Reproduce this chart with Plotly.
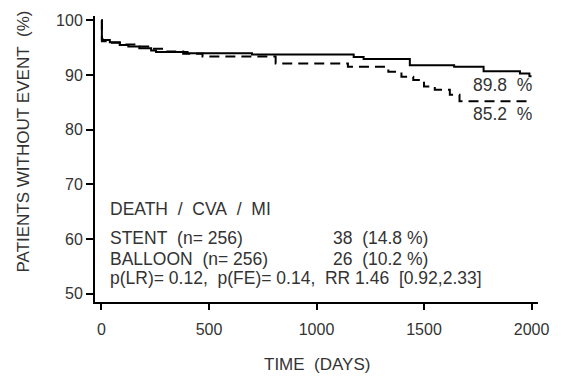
import plotly.graph_objects as go

# Kaplan-Meier style step data (days, % without event)
solid_days = [0, 2, 5, 39, 85, 125, 176, 231, 254, 400, 700, 1173, 1219, 1434, 1640, 1777, 1946, 1990, 2000]
solid_pct = [100, 96.6, 96.4, 96.0, 95.5, 95.2, 94.9, 94.5, 94.2, 94.0, 93.75, 93.3, 92.95, 91.8, 91.5, 90.7, 90.3, 89.8, 89.8]

dashed_days = [0, 2, 40, 100, 170, 230, 300, 380, 470, 810, 1146, 1334, 1395, 1450, 1500, 1550, 1620, 1665, 2000]
dashed_pct = [100, 96.2, 95.9, 95.6, 95.2, 94.8, 94.3, 93.9, 93.4, 92.1, 91.5, 90.6, 89.7, 89.1, 87.9, 87.3, 86.4, 85.2, 85.2]

end_labels = ["89.8 %", "85.2 %"]
x_ticks = [0, 500, 1000, 1500, 2000]
y_ticks = [50, 60, 70, 80, 90, 100]

NB = "\u00a0"
info_left = ["DEATH" + NB * 2 + "/" + NB * 2 + "CVA" + NB * 2 + "/" + NB * 2 + "MI",
             "STENT" + NB * 2 + "(n=" + NB + "256)",
             "BALLOON" + NB * 2 + "(n=" + NB + "256)",
             "p(LR)=" + NB + "0.12," + NB * 2 + "p(FE)=" + NB + "0.14," + NB * 2 + "RR" + NB + "1.46" + NB * 2 + "[0.92,2.33]"]
info_right = ["38" + NB * 2 + "(14.8" + NB + "%)", "26" + NB * 2 + "(10.2" + NB + "%)"]

FONT = "Liberation Sans, Arial, sans-serif"
TXT = "#333333"

fig = go.Figure()
fig.add_trace(go.Scatter(x=solid_days, y=solid_pct, mode="lines", line_shape="hv",
                         line=dict(color="black", width=2), showlegend=False))
fig.add_trace(go.Scatter(x=dashed_days, y=dashed_pct, mode="lines", line_shape="hv",
                         line=dict(color="black", width=2, dash="10px,6px"), showlegend=False))

ann = []
ann.append(dict(x=2012, y=88.2, text=end_labels[0].replace(" ", NB * 2), xanchor="right", yanchor="middle"))
ann.append(dict(x=2012, y=82.9, text=end_labels[1].replace(" ", NB * 2), xanchor="right", yanchor="middle"))
ys = [65.45, 60.22, 56.44, 52.83]
for t, yy in zip(info_left, ys):
    ann.append(dict(x=32, y=yy, text=t, xanchor="left", yanchor="middle"))
for t, yy in zip(info_right, ys[1:3]):
    ann.append(dict(x=1066, y=yy, text=t, xanchor="left", yanchor="middle"))
for a in ann:
    a.update(xref="x", yref="y", showarrow=False, font=dict(family=FONT, size=17.5, color=TXT))

ann.append(dict(xref="paper", yref="paper", x=-0.162, y=0.562,
                text="PATIENTS" + NB + "WITHOUT" + NB + "EVENT" + NB * 2 + "(%)",
                textangle=-90, showarrow=False, xanchor="center", yanchor="middle",
                font=dict(family=FONT, size=17, color=TXT)))
ann.append(dict(xref="paper", yref="paper", x=0.5, y=-0.217, text="TIME" + NB * 2 + "(DAYS)",
                showarrow=False, xanchor="center", yanchor="middle",
                font=dict(family=FONT, size=17, color=TXT)))

fig.update_layout(
    width=561, height=378,
    margin=dict(l=95, r=16, t=12, b=76),
    plot_bgcolor="white", paper_bgcolor="white",
    annotations=ann,
    xaxis=dict(range=[-30, 2030], tickvals=x_ticks, showgrid=False, zeroline=False,
               showline=True, linecolor="black", linewidth=2,
               ticks="outside", ticklen=6, tickwidth=2, tickcolor="black",
               ticklabelstandoff=6,
               tickfont=dict(family=FONT, size=16, color=TXT)),
    yaxis=dict(range=[48.5, 100.8], tickvals=y_ticks, showgrid=False, zeroline=False,
               showline=True, linecolor="black", linewidth=2,
               ticks="outside", ticklen=7, tickwidth=2, tickcolor="black",
               tickfont=dict(family=FONT, size=16, color=TXT)),
)

fig.write_html("out.html")
